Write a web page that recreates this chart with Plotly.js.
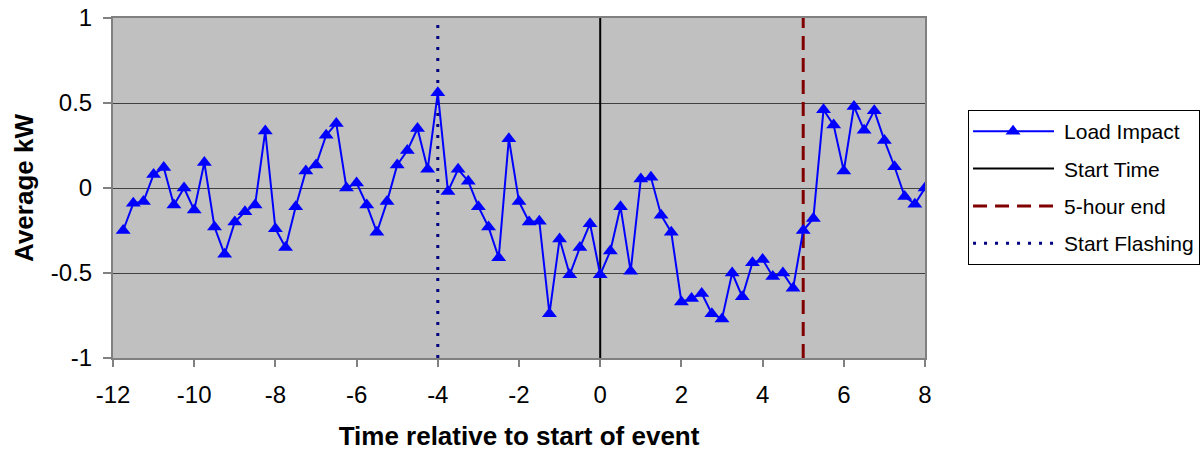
<!DOCTYPE html>
<html>
<head>
<meta charset="utf-8">
<script src="https://cdn.plot.ly/plotly-3.0.1.min.js"></script>
<style>
html,body{margin:0;padding:0;background:#fff;}
#chart{width:1200px;height:456px;}
</style>
</head>
<body>
<div id="chart"></div>
<script>
// Time (hours relative to start of event), 15-minute steps
var timeHours = [
  -11.75,-11.5,-11.25,-11,-10.75,-10.5,-10.25,-10,-9.75,-9.5,-9.25,-9,-8.75,-8.5,-8.25,
  -8,-7.75,-7.5,-7.25,-7,-6.75,-6.5,-6.25,-6,-5.75,-5.5,-5.25,-5,-4.75,-4.5,-4.25,
  -4,-3.75,-3.5,-3.25,-3,-2.75,-2.5,-2.25,-2,-1.75,-1.5,-1.25,-1,-0.75,-0.5,-0.25,
  0,0.25,0.5,0.75,1,1.25,1.5,1.75,2,2.25,2.5,2.75,3,3.25,3.5,3.75,
  4,4.25,4.5,4.75,5,5.25,5.5,5.75,6,6.25,6.5,6.75,7,7.25,7.5,7.75,8
];
// Average kW load impact
var loadImpact = [
  -0.25,-0.09,-0.08,0.08,0.12,-0.10,0.00,-0.13,0.15,-0.23,-0.39,-0.20,-0.14,-0.10,0.335,
  -0.24,-0.35,-0.11,0.10,0.135,0.31,0.38,0.00,0.03,-0.10,-0.26,-0.08,0.135,0.22,0.35,0.11,
  0.56,-0.02,0.11,0.04,-0.11,-0.23,-0.41,0.29,-0.08,-0.20,-0.195,-0.74,-0.30,-0.51,-0.35,-0.21,
  -0.51,-0.37,-0.11,-0.49,0.053,0.063,-0.16,-0.26,-0.67,-0.65,-0.62,-0.74,-0.77,-0.50,-0.64,-0.44,
  -0.42,-0.52,-0.50,-0.59,-0.25,-0.18,0.46,0.37,0.10,0.48,0.34,0.455,0.28,0.125,-0.05,-0.095,0.00
];
// Event marker lines
var startTimeX = [0, 0];
var fiveHourEndX = [5, 5];
var startFlashingX = [-4, -4];
var markerLineY = [-1, 1];

var xTickVals = [-12,-10,-8,-6,-4,-2,0,2,4,6,8];
var xTickText = ["-12","-10","-8","-6","-4","-2","0","2","4","6","8"];
var yTickVals = [-1,-0.5,0,0.5,1];
var yTickText = ["-1","-0.5","0","0.5","1"];

var FONT = "Arial, 'Liberation Sans', sans-serif";

var traces = [
  {
    x: timeHours, y: loadImpact, name: "Load Impact", type: "scatter", mode: "lines+markers",
    line: {color: "#0000FF", width: 2},
    marker: {symbol: "triangle-up", size: 13, color: "#0000FF", line: {width: 0}},
    legendrank: 1, legendgroup: "g1", hoverinfo: "x+y"
  },
  {
    x: startTimeX, y: markerLineY, name: "Start Time", type: "scatter", mode: "lines",
    line: {color: "#000000", width: 2}, legendrank: 2, legendgroup: "g2", hoverinfo: "skip"
  },
  {
    x: fiveHourEndX, y: markerLineY, name: "5-hour end", type: "scatter", mode: "lines",
    line: {color: "#800000", width: 3, dash: "14px,8px"}, legendrank: 3, legendgroup: "g3", hoverinfo: "skip"
  },
  {
    x: startFlashingX, y: markerLineY, name: "Start Flashing", type: "scatter", mode: "lines",
    line: {color: "#000080", width: 3, dash: "3px,8px"}, legendrank: 4, legendgroup: "g4", hoverinfo: "skip"
  }
];
// draw marker lines beneath the data series
var drawOrder = [traces[1], traces[2], traces[3], traces[0]];

var layout = {
  width: 1200, height: 456,
  margin: {l: 113, r: 275, t: 18, b: 98, pad: 0, autoexpand: false},
  paper_bgcolor: "#FFFFFF",
  plot_bgcolor: "#C0C0C0",
  font: {family: FONT, size: 24, color: "#000"},
  showlegend: true,
  legend: {
    x: 1.053, xanchor: "left", y: 0.729, yanchor: "top",
    font: {family: FONT, size: 21, color: "#000"},
    bgcolor: "#FFFFFF", bordercolor: "#000000", borderwidth: 1,
    tracegroupgap: 7, itemwidth: 85
  },
  xaxis: {
    range: [-12, 8], tickmode: "array", tickvals: xTickVals, ticktext: xTickText,
    showgrid: false, zeroline: false,
    showline: true, linecolor: "#808080", linewidth: 2, mirror: true,
    ticks: "outside", ticklen: 7, tickwidth: 2, tickcolor: "#808080",
    ticklabelstandoff: 7,
    tickfont: {family: FONT, size: 24, color: "#000"},
    title: {text: "<b>Time relative to start of event</b>", font: {family: FONT, size: 26, color: "#000"}, standoff: 20}
  },
  yaxis: {
    range: [-1, 1], tickmode: "array", tickvals: yTickVals, ticktext: yTickText,
    showgrid: true, gridcolor: "#404040", gridwidth: 1,
    zeroline: false,
    showline: true, linecolor: "#808080", linewidth: 2, mirror: true,
    ticks: "outside", ticklen: 8, tickwidth: 2, tickcolor: "#808080",
    ticklabelstandoff: 6,
    tickfont: {family: FONT, size: 24, color: "#000"},
    title: {text: "<b>Average kW</b>", font: {family: FONT, size: 26, color: "#000"}, standoff: 10}
  }
};

Plotly.newPlot("chart", drawOrder, layout, {displayModeBar: false, staticPlot: true}).then(function (gd) {
  // widen legend line samples to resemble the original chart's longer keys
  gd.querySelectorAll(".legend .traces").forEach(function (tr) {
    tr.querySelectorAll(".legendlines path").forEach(function (p) {
      p.setAttribute("d", "M4,0h81");
    });
    tr.querySelectorAll(".legendpoints path").forEach(function (p) {
      p.setAttribute("transform", "translate(44,0)");
    });
  });
});
</script>
</body>
</html>
